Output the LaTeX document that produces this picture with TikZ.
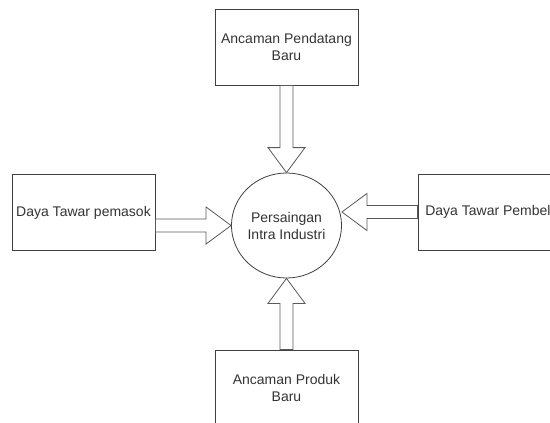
\documentclass[tikz,border=0pt]{standalone}
\usepackage{fontspec}
\setmainfont{Liberation Sans}
\usetikzlibrary{calc,shapes.geometric}

% hollow block arrow from #1 to the tip #2
\newcommand{\panah}[2]{%
    \coordinate (kepala) at ($(#2)!25pt!(#1)$);
    \draw[garispanah] ($(#1)!6.5pt!90:(#2)$) -- ($(kepala)!6.5pt!-90:(#1)$) -- ($(kepala)!18.5pt!-90:(#1)$)
        -- (#2) -- ($(kepala)!18.5pt!90:(#1)$) -- ($(kepala)!6.5pt!90:(#1)$) -- ($(#1)!6.5pt!-90:(#2)$) -- cycle;
}

\begin{document}
\begin{tikzpicture}[x=1pt,y=-1pt]
    \tikzstyle{kotak}=[draw=black!75,line width=0.8pt,minimum width=143pt,minimum height=76pt,inner sep=0pt,align=center,text=black!80,font=\fontsize{14}{17}\selectfont]
    \tikzstyle{pusat}=[ellipse,draw=black!75,line width=0.8pt,minimum width=97pt,minimum height=105pt,inner sep=0pt,align=center,text=black!80,font=\fontsize{14}{17}\selectfont]
    \tikzstyle{garispanah}=[draw=black!65,line width=0.8pt,fill=white,line join=miter]
    \useasboundingbox (0,0) rectangle (550,423);
    \clip (0,0) rectangle (550,423);
    \node (baru)[kotak] at (286.5,47) {Ancaman Pendatang\\Baru};
    \node (pemasok)[kotak] at (83.5,212.5) {Daya Tawar pemasok};
    \node (pembeli)[kotak] at (489.5,212) {Daya Tawar Pembeli};
    \node (produk)[kotak] at (286.5,388) {Ancaman Produk\\Baru};
    \node (persaingan)[pusat] at (286.5,225.5) {Persaingan\\Intra Industri};
    \panah{baru.south}{persaingan.north}
    \panah{produk.north}{persaingan.south}
    \panah{pemasok.east |- persaingan.west}{persaingan.west}
    \panah{pembeli.west}{pembeli.west -| persaingan.east}
\end{tikzpicture}
\end{document}
